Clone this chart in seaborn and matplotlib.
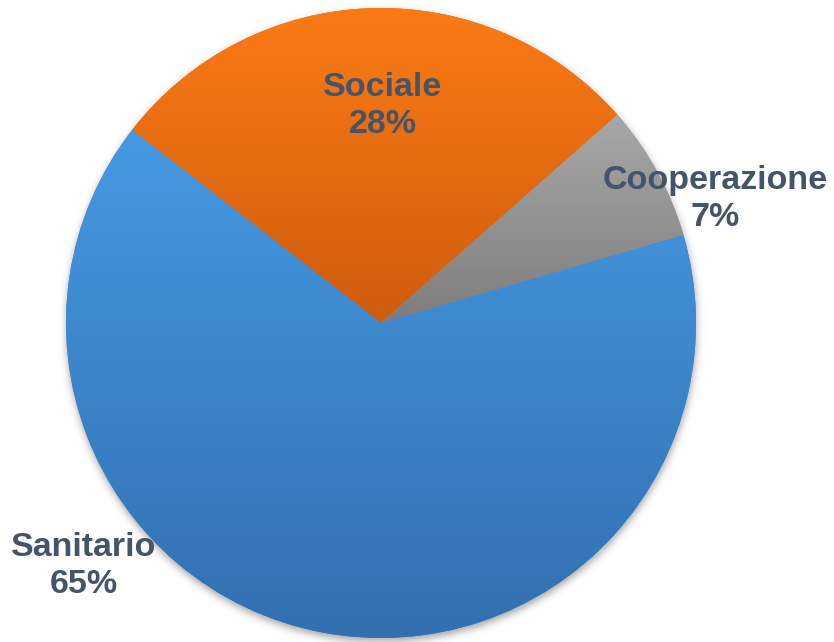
import numpy as np
import matplotlib
matplotlib.use("Agg")
import matplotlib.pyplot as plt
import seaborn as sns
from matplotlib.colors import to_rgb

# data (drawing order: clockwise from the upper-left boundary)
categories = ['Sociale', 'Cooperazione', 'Sanitario']
shares = [28, 7, 65]
top_colors = ['#fb7a14', '#a8a8a8', '#4699e2']
bottom_colors = ['#cf5c0e', '#7d7d7d', '#3270b0']
label_pos = [(383, 536), (715, 443), (84, 76)]

sns.set_theme(style='white')
plt.rcParams['font.family'] = ['Liberation Sans', 'DejaVu Sans']

W, H = 834, 642
cx, cy, r = 381, 319, 315

fig = plt.figure(figsize=(W / 100, H / 100), dpi=100)
ax = fig.add_axes([0, 0, 1, 1])

# soft shadow under the pie
yy, xx = np.mgrid[0:H, 0:W]
mask = (((xx - cx) ** 2 + (yy - (H - cy) - 3) ** 2) <= r ** 2).astype(float)
sig = 4.0
k = np.exp(-np.arange(-14, 15) ** 2 / (2 * sig ** 2))
k /= k.sum()
mask = np.apply_along_axis(lambda v: np.convolve(v, k, mode='same'), 0, mask)
mask = np.apply_along_axis(lambda v: np.convolve(v, k, mode='same'), 1, mask)
shadow = np.zeros((H, W, 4))
shadow[..., :3] = 0.35
shadow[..., 3] = mask * 0.55
ax.imshow(shadow, extent=[0, W, 0, H], origin='upper', zorder=0, aspect='auto')

wedges, _ = ax.pie(shares, startangle=142.2, counterclock=False,
                   center=(cx, cy), radius=r,
                   colors=[bottom_colors[i] for i in range(3)],
                   wedgeprops=dict(linewidth=0))

for w, c_top, c_bot in zip(wedges, top_colors, bottom_colors):
    w.set_zorder(1)
    ext = w.get_path().get_extents()
    t = np.linspace(0, 1, 256)[:, None]
    grad = (1 - t) * np.array(to_rgb(c_top)) + t * np.array(to_rgb(c_bot))
    w.set_facecolor(tuple(grad[128]))
    im = ax.imshow(grad[:, None, :], extent=[ext.x0, ext.x1, ext.y0, ext.y1],
                   origin='upper', aspect='auto', interpolation='bilinear', zorder=2)
    im.set_clip_path(w)

for name, val, (x, y) in zip(categories, shares, label_pos):
    ax.text(x, y, f'{name}\n{val}%', ha='center', va='center', fontsize=24.5,
            fontweight='bold', color='#44546a', linespacing=1.28, zorder=5)

ax.set_xlim(0, W)
ax.set_ylim(0, H)
ax.set_aspect('auto')
ax.axis('off')
fig.savefig('out.png', dpi=100, facecolor='white')
